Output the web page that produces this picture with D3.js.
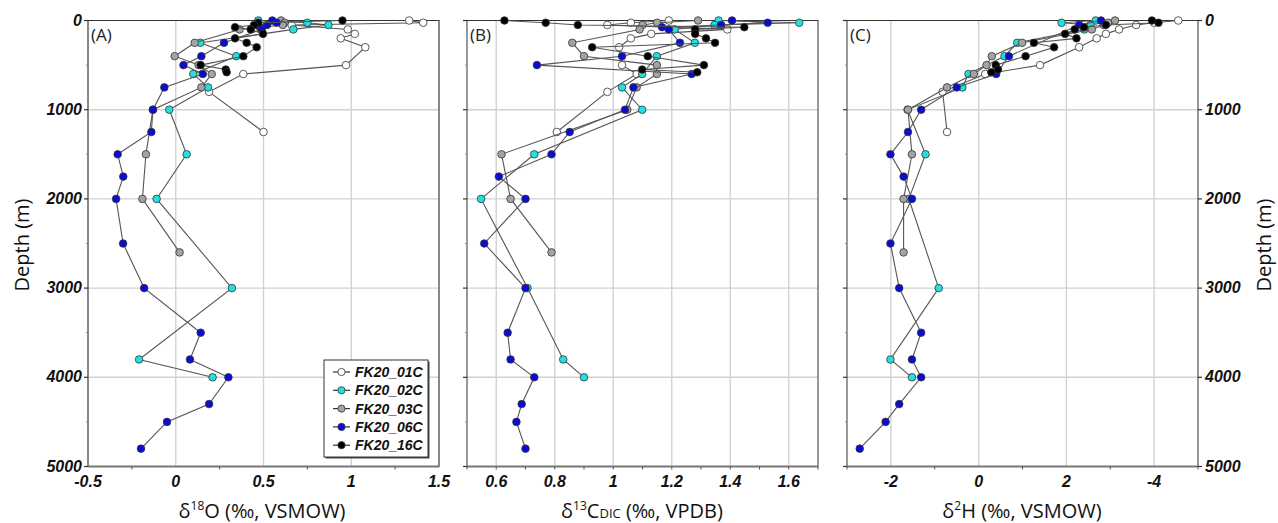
<!DOCTYPE html>
<html>
<head>
<meta charset="utf-8">
<script src="https://cdn.jsdelivr.net/npm/d3@7/dist/d3.min.js"></script>
<style>
  body { margin: 0; background: #fff; }
  .tick-label { font-family: "Liberation Sans Narrow", "Liberation Sans", Arial, sans-serif; font-weight: bold; font-style: italic; font-size: 16px; fill: #111; }
  .title { font-family: "Open Sans", "Noto Sans", sans-serif; font-size: 20px; fill: #111; }
  .panel-tag { font-family: "Open Sans", "Noto Sans", sans-serif; font-size: 17px; fill: #222; }
  .legend-label { font-family: "Liberation Sans Narrow", "Liberation Sans", Arial, sans-serif; font-weight: bold; font-style: italic; font-size: 14px; fill: #111; }
</style>
</head>
<body>
<svg id="chart" width="1278" height="523"></svg>
<script>
// stations, in legend order
const stations = ["FK20_01C", "FK20_02C", "FK20_03C", "FK20_06C", "FK20_16C"];

// sampling depths (m) per station
const depth01 = [0, 25, 50, 100, 150, 200, 300, 500, 600, 800, 1250];
const depth02 = [0, 25, 50, 100, 250, 400, 600, 750, 1000, 1500, 2000, 3000, 3800, 4000];
const depth03 = [0, 25, 50, 100, 250, 400, 500, 600, 750, 1000, 1500, 2000, 2600];
const depth06 = [0, 25, 50, 75, 100, 250, 400, 500, 600, 750, 1000, 1250, 1500, 1750, 2000, 2500, 3000, 3500, 3800, 4000, 4300, 4500, 4800];
const depth16 = [0, 25, 50, 75, 100, 150, 200, 250, 300, 400, 500, 550, 580];

// d18O (permil, VSMOW)
const d18O_01 = [1.33, 1.41, 0.66, 0.98, 1.02, 0.94, 1.08, 0.97, 0.385, 0.19, 0.50];
const d18O_02 = [0.47, 0.75, 0.87, 0.67, 0.14, 0.345, 0.10, 0.184, -0.037, 0.062, -0.109, 0.32, -0.209, 0.21];
const d18O_03 = [0.60, 0.62, 0.61, 0.364, 0.108, -0.006, 0.13, 0.205, 0.146, -0.13, -0.17, -0.19, 0.022];
const d18O_06 = [0.55, 0.575, 0.52, 0.48, 0.49, 0.275, 0.146, 0.044, 0.154, -0.065, -0.13, -0.139, -0.331, -0.299, -0.34, -0.30, -0.18, 0.142, 0.081, 0.30, 0.19, -0.05, -0.198];
const d18O_16 = [0.95, 0.47, 0.446, 0.338, 0.427, 0.497, 0.338, 0.404, 0.461, 0.385, 0.142, 0.285, 0.29];

// d13C-DIC (permil, VPDB)
const d13C_01 = [1.19, 1.06, 0.98, 1.39, 1.13, 1.06, 1.02, 1.03, 1.08, 0.98, 0.807];
const d13C_02 = [1.36, 1.636, 1.346, 1.21, 1.279, 1.149, 1.099, 1.03, 1.099, 0.73, 0.548, 0.707, 0.829, 0.90];
const d13C_03 = [1.29, 1.15, 1.10, 1.09, 0.86, 0.90, 1.149, 1.149, 1.08, 1.048, 0.618, 0.649, 0.789];
const d13C_06 = [1.406, 1.528, 1.369, 1.167, 1.19, 1.228, 1.03, 0.739, 1.268, 1.069, 1.04, 0.851, 0.789, 0.609, 0.70, 0.559, 0.70, 0.639, 0.649, 0.73, 0.687, 0.669, 0.70];
const d13C_16 = [0.628, 0.769, 0.879, 1.448, 1.28, 1.28, 1.317, 1.348, 0.928, 1.118, 1.31, 1.099, 1.287];

// d2H (permil, VSMOW)
const d2H_01 = [4.55, 4.0, 3.59, 3.2, 2.9, 2.69, 2.29, 1.4, 0.15, -0.82, -0.72];
const d2H_02 = [2.67, 1.89, 2.55, 2.41, 0.88, 0.59, -0.23, -0.37, -1.62, -1.21, -1.59, -0.91, -2.01, -1.52];
const d2H_03 = [3.11, 2.95, 2.85, 2.58, 0.99, 0.30, 0.18, -0.11, -0.72, -1.61, -1.52, -1.71, -1.71];
const d2H_06 = [2.79, null, 2.29, null, null, null, 0.69, null, 0.40, -0.5, -1.31, -1.61, -2.01, -1.71, -1.52, -2.01, -1.81, -1.31, -1.52, -1.31, -1.81, -2.12, -2.71];
const d2H_16 = [3.95, 4.1, 2.9, 2.4, 2.19, 1.97, 2.23, 1.26, 1.72, 1.07, 0.39, 0.44, 0.29];

// axis ticks
const ticksA = [-0.5, 0, 0.5, 1, 1.5];
const ticksB = [0.6, 0.8, 1, 1.2, 1.4, 1.6];
const ticksC = [-2, 0, 2, 4];
const labelsC = ["-2", "0", "2", "-4"];
const depthTicks = [0, 1000, 2000, 3000, 4000, 5000];

const depths = [depth01, depth02, depth03, depth06, depth16];
const fills = ["#ffffff", "#22e0e0", "#a3a3a3", "#0b0bd6", "#000000"];

const svg = d3.select("#chart");
const y = d3.scaleLinear().domain([0, 5000]).range([20.5, 466.5]);

const panels = [
    { tag: "(A)", x: d3.scaleLinear().domain([-0.5, 1.5]).range([88, 439]), ticks: ticksA, labels: ticksA.map(String),
      minor: d3.range(-0.25, 1.5, 0.5), series: [d18O_01, d18O_02, d18O_03, d18O_06, d18O_16] },
    { tag: "(B)", x: d3.scaleLinear().domain([0.5, 1.7]).range([467, 818]), ticks: ticksB, labels: ticksB.map(String),
      minor: d3.range(0.5, 1.75, 0.1), series: [d13C_01, d13C_02, d13C_03, d13C_06, d13C_16] },
    { tag: "(C)", x: d3.scaleLinear().domain([-3, 5]).range([847, 1198]), ticks: ticksC, labels: labelsC,
      minor: [-3, -1, 1, 3, 5], series: [d2H_01, d2H_02, d2H_03, d2H_06, d2H_16] }
];

panels.forEach((p, pi) => {
    const g = svg.append("g");
    const [x0, x1] = p.x.range();
    const [y0, y1] = y.range();

    // grid
    g.selectAll(".vgrid").data(p.ticks).enter().append("line")
        .attr("x1", d => p.x(d)).attr("x2", d => p.x(d))
        .attr("y1", y0).attr("y2", y1)
        .attr("stroke", "#d2d2d2").attr("stroke-width", 1.4);
    g.selectAll(".hgrid").data(depthTicks.slice(1, -1)).enter().append("line")
        .attr("x1", x0).attr("x2", x1)
        .attr("y1", d => y(d)).attr("y2", d => y(d))
        .attr("stroke", "#d2d2d2").attr("stroke-width", 1.4);

    // frame
    g.append("rect").attr("x", x0).attr("y", y0).attr("width", x1 - x0).attr("height", y1 - y0)
        .attr("fill", "none").attr("stroke", "#333").attr("stroke-width", 1);
    g.append("line").attr("x1", x0).attr("x2", x1).attr("y1", y1).attr("y2", y1)
        .attr("stroke", "#777").attr("stroke-width", 2.2);

    // x axis ticks
    g.selectAll(".xmin").data(p.minor).enter().append("line")
        .attr("x1", d => p.x(d)).attr("x2", d => p.x(d))
        .attr("y1", y1).attr("y2", y1 + 3)
        .attr("stroke", "#555").attr("stroke-width", 1);
    g.selectAll(".xlab").data(p.ticks).enter().append("text")
        .attr("class", "tick-label")
        .attr("x", d => p.x(d)).attr("y", 487)
        .attr("text-anchor", "middle")
        .text((d, i) => p.labels[i]);

    // y axis ticks on the left of every panel
    g.selectAll(".ymaj").data(depthTicks).enter().append("line")
        .attr("x1", x0 - 4).attr("x2", x0)
        .attr("y1", d => y(d)).attr("y2", d => y(d))
        .attr("stroke", "#333").attr("stroke-width", 1.2);
    g.selectAll(".ymin").data(d3.range(500, 5000, 1000)).enter().append("line")
        .attr("x1", x0 - 2).attr("x2", x0)
        .attr("y1", d => y(d)).attr("y2", d => y(d))
        .attr("stroke", "#888").attr("stroke-width", 1);

    // profiles
    stations.forEach((s, si) => {
        const pts = depths[si].map((dp, k) => ({ depth: dp, v: p.series[si][k] }))
            .filter(d => d.v !== null);
        const line = d3.line().x(d => p.x(d.v)).y(d => y(d.depth));
        g.append("path").datum(pts)
            .attr("d", line)
            .attr("fill", "none").attr("stroke", "#555").attr("stroke-width", 1.1);
        g.selectAll(".pt" + si).data(pts).enter().append("circle")
            .attr("cx", d => p.x(d.v)).attr("cy", d => y(d.depth))
            .attr("r", 3.8)
            .attr("fill", fills[si])
            .attr("stroke", "#333").attr("stroke-width", 0.8);
    });

    g.append("text").attr("class", "panel-tag")
        .attr("x", x0 + 3).attr("y", y0 + 20).text(p.tag);
});

// depth labels, left (panel A) and right (panel C)
const xA = panels[0].x.range()[0];
const xC = panels[2].x.range()[1];
svg.selectAll(".ylabL").data(depthTicks).enter().append("text")
    .attr("class", "tick-label")
    .attr("x", xA - 6).attr("y", d => y(d) + 5)
    .attr("text-anchor", "end")
    .text(d => d);
svg.selectAll(".ymajR").data(depthTicks).enter().append("line")
    .attr("x1", xC).attr("x2", xC + 4)
    .attr("y1", d => y(d)).attr("y2", d => y(d))
    .attr("stroke", "#333").attr("stroke-width", 1.2);
svg.selectAll(".ylabR").data(depthTicks).enter().append("text")
    .attr("class", "tick-label")
    .attr("x", xC + 7).attr("y", d => y(d) + 5)
    .attr("text-anchor", "start")
    .text(d => d);

svg.append("text").attr("class", "title")
    .attr("transform", "translate(29,245) rotate(-90)")
    .attr("text-anchor", "middle").text("Depth (m)");
svg.append("text").attr("class", "title")
    .attr("transform", "translate(1271,245) rotate(-90)")
    .attr("text-anchor", "middle").text("Depth (m)");

// x titles
const t1 = svg.append("text").attr("class", "title").attr("x", 262).attr("y", 518).attr("text-anchor", "middle");
t1.append("tspan").text("δ");
t1.append("tspan").attr("dy", -8).attr("font-size", 12).text("18");
t1.append("tspan").attr("dy", 8).text("O (‰, VSMOW)");

const t2 = svg.append("text").attr("class", "title").attr("x", 642).attr("y", 518).attr("text-anchor", "middle");
t2.append("tspan").text("δ");
t2.append("tspan").attr("dy", -8).attr("font-size", 12).text("13");
t2.append("tspan").attr("dy", 8).text("C");
t2.append("tspan").attr("font-size", 13).text("DIC");
t2.append("tspan").text(" (‰, VPDB)");

const t3 = svg.append("text").attr("class", "title").attr("x", 1022).attr("y", 518).attr("text-anchor", "middle");
t3.append("tspan").text("δ");
t3.append("tspan").attr("dy", -8).attr("font-size", 12).text("2");
t3.append("tspan").attr("dy", 8).text("H (‰, VSMOW)");

// legend
const leg = svg.append("g").attr("transform", "translate(324,360)");
leg.append("rect").attr("x", 1.5).attr("y", 1.5).attr("width", 104).attr("height", 97).attr("fill", "#444");
leg.append("rect").attr("width", 104).attr("height", 97).attr("fill", "#fff").attr("stroke", "#333").attr("stroke-width", 1);
stations.forEach((s, si) => {
    const ly = 12 + si * 18.3;
    leg.append("line").attr("x1", 9).attr("x2", 26).attr("y1", ly).attr("y2", ly)
        .attr("stroke", "#333").attr("stroke-width", 1.2);
    leg.append("circle").attr("cx", 17.5).attr("cy", ly).attr("r", 3.6)
        .attr("fill", fills[si]).attr("stroke", "#333").attr("stroke-width", 0.8);
    leg.append("text").attr("class", "legend-label").attr("x", 31).attr("y", ly + 5).text(s);
});
</script>
</body>
</html>
